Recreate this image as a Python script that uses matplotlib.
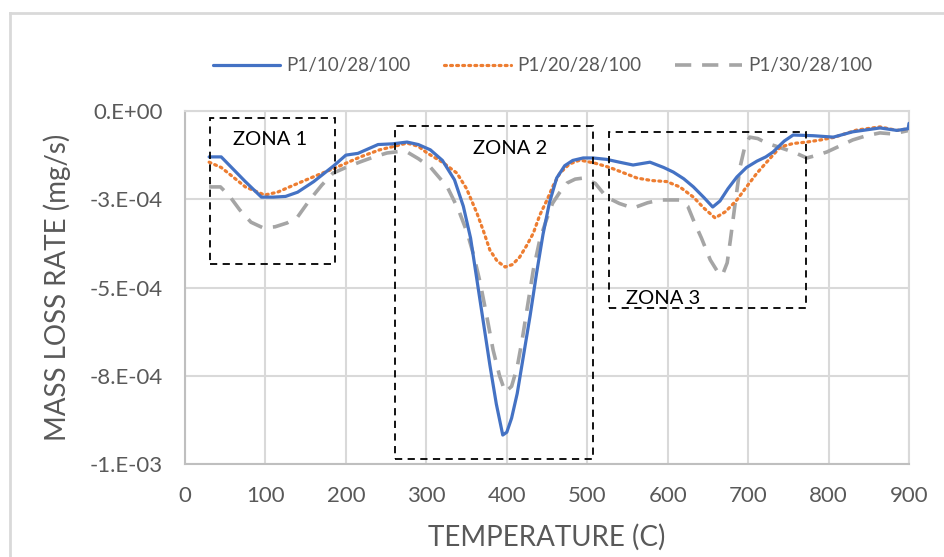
import matplotlib
matplotlib.use("Agg")
import matplotlib.pyplot as plt
from matplotlib.lines import Line2D
from matplotlib.patches import Rectangle

# ---------------- data ----------------
t_p10 = [30, 45, 60, 75, 95, 110, 125, 140, 160, 185, 200, 215, 240, 258, 276, 290, 305, 320,
         335, 346, 355, 363, 371, 379, 387, 395, 400, 406, 413, 421, 429, 437, 445, 453, 462,
         472, 482, 495, 507, 524, 540, 557, 578, 595, 607, 620, 632, 645, 656, 665, 675, 686,
         698, 711, 722, 731, 745, 756, 781, 806, 830, 864, 885, 899, 900]
r_p10 = [-1.3, -1.3, -1.65, -2.0, -2.44, -2.44, -2.42, -2.3, -2.0, -1.55, -1.25, -1.2, -0.95,
         -0.93, -0.88, -0.95, -1.1, -1.4, -1.95, -2.7, -3.6, -4.8, -6.0, -7.2, -8.3, -9.18,
         -9.1, -8.7, -8.0, -6.9, -5.8, -4.6, -3.5, -2.6, -1.9, -1.55, -1.4, -1.33, -1.33,
         -1.37, -1.45, -1.53, -1.45, -1.6, -1.73, -1.92, -2.15, -2.45, -2.72, -2.55, -2.2,
         -1.87, -1.6, -1.42, -1.3, -1.16, -0.85, -0.68, -0.7, -0.74, -0.59, -0.48, -0.55,
         -0.5, -0.35]

t_p20 = [30, 45, 56, 75, 99, 115, 130, 159, 189, 218, 242, 260, 276, 290, 301, 320, 338, 350,
         363, 371, 379, 388, 398, 407, 416, 425, 433, 441, 450, 458, 466, 478, 491, 510, 528,
         545, 562, 580, 599, 615, 632, 645, 659, 672, 686, 698, 711, 725, 740, 756, 773, 790,
         806, 835, 864, 885, 900]
r_p20 = [-1.45, -1.6, -1.8, -2.15, -2.38, -2.3, -2.15, -1.87, -1.59, -1.3, -1.1, -1.0, -0.91,
         -1.0, -1.19, -1.45, -1.76, -2.2, -2.9, -3.4, -3.94, -4.25, -4.42, -4.35, -4.14,
         -3.8, -3.46, -2.95, -2.52, -2.1, -1.76, -1.5, -1.39, -1.48, -1.6, -1.75, -1.9,
         -1.97, -2.0, -2.15, -2.44, -2.75, -3.03, -2.85, -2.52, -2.15, -1.76, -1.4, -1.02,
         -0.92, -0.88, -0.82, -0.75, -0.54, -0.45, -0.55, -0.5]

t_p30 = [30, 44, 55, 68, 82, 97, 112, 127, 140, 155, 170, 184, 200, 218, 235, 251, 265, 276,
         290, 305, 326, 340, 351, 359, 367, 375, 383, 391, 398, 406, 413, 419, 425, 433, 441,
         449, 457, 466, 475, 485, 495, 510, 524, 540, 557, 575, 590, 615, 625, 632, 642, 653,
         662, 668, 674, 678, 684, 690, 696, 702, 712, 723, 735, 748, 760, 773, 786, 798, 815,
         830, 847, 864, 880, 900]
r_p30 = [-2.15, -2.15, -2.4, -2.8, -3.15, -3.31, -3.28, -3.17, -3.0, -2.52, -2.1, -1.76, -1.6,
         -1.44, -1.3, -1.19, -1.15, -1.16, -1.35, -1.59, -2.15, -2.8, -3.46, -4.1, -4.87,
         -5.8, -6.77, -7.5, -7.96, -7.8, -7.25, -6.5, -5.64, -4.5, -3.65, -3.1, -2.61, -2.3,
         -2.04, -1.93, -1.9, -2.05, -2.44, -2.62, -2.75, -2.6, -2.52, -2.52, -2.7, -3.09,
         -3.6, -4.22, -4.55, -4.65, -4.3, -3.65, -2.6, -1.59, -1.0, -0.74, -0.78, -0.91,
         -1.0, -1.1, -1.2, -1.33, -1.25, -1.16, -0.98, -0.82, -0.7, -0.62, -0.65, -0.55]

scale = 1e-4
series_labels = ["P1/10/28/100", "P1/20/28/100", "P1/30/28/100"]
x_ticks = [0, 100, 200, 300, 400, 500, 600, 700, 800, 900]
y_ticks = [0, -2.5e-4, -5e-4, -7.5e-4, -1e-3]
y_tick_labels = ["0.E+00", "-3.E-04", "-5.E-04", "-8.E-04", "-1.E-03"]

zone_labels = ["ZONA 1", "ZONA 2", "ZONA 3"]
zone_boxes = [(31, -0.20e-4, 186, -4.33e-4),
              (261, -0.42e-4, 507, -9.86e-4),
              (527, -0.59e-4, 772, -5.58e-4)]
zone_text_pos = [(106, -0.82e-4), (404, -1.05e-4), (594, -5.3e-4)]

# ---------------- plot ----------------
plt.rcParams['font.family'] = ['Lato', 'DejaVu Sans']
fig = plt.figure(figsize=(9.45, 5.57), dpi=100)
ax = fig.add_axes([185/945, 1-464/557, (909-185)/945, (464-111)/557])

grid_c = '#d9d9d9'
tick_c = '#595959'

ax.plot(t_p10, [v*scale for v in r_p10], color='#4472C4', lw=2.3, solid_capstyle='round',
        label=series_labels[0], zorder=4)
ax.plot(t_p20, [v*scale for v in r_p20], color='#ED7D31', lw=2.3, linestyle=(0, (0.6, 1.3)),
        dash_capstyle='round', label=series_labels[1], zorder=3)
ax.plot(t_p30, [v*scale for v in r_p30], color='#A5A5A5', lw=2.6, linestyle=(0, (4.5, 3)),
        label=series_labels[2], zorder=2)

for (x0, y0, x1, y1) in zone_boxes:
    ax.add_patch(Rectangle((x0, y1), x1-x0, y0-y1, fill=False, edgecolor='black',
                           lw=1.3, linestyle=(0, (4, 3)), zorder=5))
for lab, (tx, ty) in zip(zone_labels, zone_text_pos):
    ax.text(tx, ty, lab, ha='center', va='center', fontsize=14.5, color='black', zorder=6)

ax.set_xlim(0, 900)
ax.set_ylim(-1e-3, 0)
ax.set_xticks(x_ticks)
ax.set_xticklabels([str(v) for v in x_ticks])
ax.set_yticks(y_ticks)
ax.set_yticklabels(y_tick_labels)
ax.tick_params(axis='both', length=0, labelsize=16, colors=tick_c)
ax.tick_params(axis='x', pad=16)
ax.tick_params(axis='y', pad=16)
ax.grid(True, color=grid_c, lw=1.5)
ax.set_axisbelow(True)
for s in ax.spines.values():
    s.set_color(grid_c)
    s.set_linewidth(1.5)
ax.spines['left'].set_color('#bfbfbf')
ax.spines['bottom'].set_color('#bfbfbf')

ax.set_xlabel("TEMPERATURE (C)", fontsize=20, color=tick_c, va='center')
ax.xaxis.set_label_coords(0.5, (464-537)/353)
ax.set_ylabel("MASS LOSS RATE (mg/s)", fontsize=20, color=tick_c, va='center')
ax.yaxis.set_label_coords((57-185)/724, 0.5)

leg = fig.legend(loc='center', bbox_to_anchor=(0.574, 1-66/557), ncol=3, frameon=False,
                 fontsize=13.5, handlelength=3.6, columnspacing=1.8, handletextpad=0.3)
for txt in leg.get_texts():
    txt.set_color(tick_c)

# chart border (left and top visible)
fig.add_artist(Line2D([10/945, 10/945], [0, 1-13/557], color='#d9d9d9', lw=2,
                      transform=fig.transFigure))
fig.add_artist(Line2D([10/945, 1], [1-13/557, 1-13/557], color='#d9d9d9', lw=2,
                      transform=fig.transFigure))

fig.savefig("out.png", dpi=100)
